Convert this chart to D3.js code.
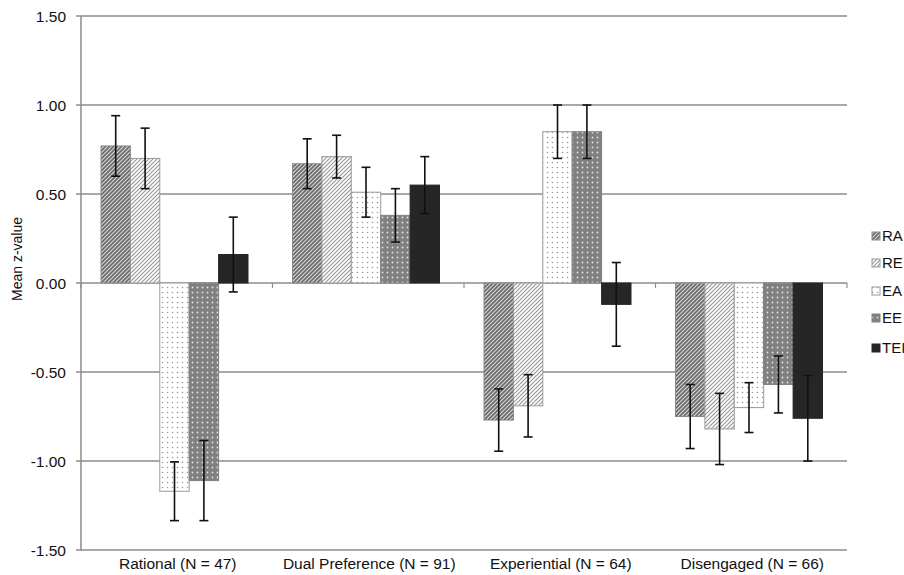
<!DOCTYPE html>
<html>
<head>
<meta charset="utf-8">
<script src="https://cdn.jsdelivr.net/npm/d3@7"></script>
<style>
  html, body { margin: 0; padding: 0; background: #fff; }
  svg { display: block; font-family: Arial, "Liberation Sans", sans-serif; }
</style>
</head>
<body>
<svg id="chart" width="904" height="575"></svg>
<script>
// ---- data ----
const categories = ["Rational (N = 47)", "Dual Preference (N = 91)", "Experiential (N = 64)", "Disengaged (N = 66)"];
const seriesNames = ["RA", "RE", "EA", "EE", "TEI"];
const RA  = [0.77, 0.67, -0.77, -0.75];
const RE  = [0.70, 0.71, -0.69, -0.82];
const EA  = [-1.17, 0.51, 0.85, -0.70];
const EE  = [-1.11, 0.38, 0.85, -0.57];
const TEI = [0.16, 0.55, -0.12, -0.76];
const RA_err  = [0.17, 0.14, 0.175, 0.18];
const RE_err  = [0.17, 0.12, 0.175, 0.20];
const EA_err  = [0.165, 0.14, 0.15, 0.14];
const EE_err  = [0.225, 0.15, 0.15, 0.16];
const TEI_err = [0.21, 0.16, 0.235, 0.24];
const yTicks = [1.5, 1.0, 0.5, 0.0, -0.5, -1.0, -1.5];
const yTickLabels = ["1.50", "1.00", "0.50", "0.00", "-0.50", "-1.00", "-1.50"];
const yTitle = "Mean z-value";

const seriesValues = [RA, RE, EA, EE, TEI];
const seriesErrors = [RA_err, RE_err, EA_err, EE_err, TEI_err];

// ---- layout ----
const svg = d3.select("#chart");
const plotL = 81, plotR = 847, plotT = 16, plotB = 550;

const y = d3.scaleLinear().domain([-1.5, 1.5]).range([plotB, plotT]);
const x0 = d3.scaleBand().domain(categories).range([plotL, plotR]).padding(0);
const x1 = d3.scaleBand().domain(seriesNames).range([20, 167]).padding(0);

// ---- patterns ----
const defs = svg.append("defs");
function hatch(id, bg, stroke, sw) {
  const p = defs.append("pattern").attr("id", id).attr("patternUnits", "userSpaceOnUse")
    .attr("width", 4).attr("height", 4);
  p.append("rect").attr("width", 4).attr("height", 4).attr("fill", bg);
  p.append("path").attr("d", "M-1,1 l2,-2 M0,4 l4,-4 M3,5 l2,-2")
    .attr("stroke", stroke).attr("stroke-width", sw).attr("fill", "none");
}
function dots(id, bg, dot, r) {
  const p = defs.append("pattern").attr("id", id).attr("patternUnits", "userSpaceOnUse")
    .attr("width", 5).attr("height", 5);
  p.append("rect").attr("width", 5).attr("height", 5).attr("fill", bg);
  p.append("circle").attr("cx", 2.5).attr("cy", 2.5).attr("r", r).attr("fill", dot);
}
hatch("pRA", "#d8d8d8", "#6a6a6a", 1.7);
hatch("pRE", "#ffffff", "#9a9a9a", 1.2);
dots("pEA", "#ffffff", "#9a9a9a", 0.8);
dots("pEE", "#808080", "#e2e2e2", 0.9);

const fills = {RA: "url(#pRA)", RE: "url(#pRE)", EA: "url(#pEA)", EE: "url(#pEE)", TEI: "#262626"};
const strokes = {RA: "#8a8a8a", RE: "#9a9a9a", EA: "#9a9a9a", EE: "#808080", TEI: "#262626"};

// ---- gridlines ----
svg.append("g").selectAll("line").data(yTicks).join("line")
  .attr("x1", plotL - 5).attr("x2", plotR)
  .attr("y1", d => y(d)).attr("y2", d => y(d))
  .attr("stroke", "#8c8c8c").attr("stroke-width", 1.5);

// y axis line
svg.append("line").attr("x1", plotL).attr("x2", plotL).attr("y1", plotT).attr("y2", plotB)
  .attr("stroke", "#8c8c8c").attr("stroke-width", 1.5);

// y tick labels
svg.append("g").selectAll("text").data(yTicks).join("text")
  .attr("x", 66).attr("y", d => y(d)).attr("dy", "0.36em")
  .attr("text-anchor", "end").attr("font-size", "15.5px").attr("fill", "#111")
  .text((d, i) => yTickLabels[i]);

// y title
svg.append("text").attr("transform", "translate(22,259) rotate(-90)")
  .attr("text-anchor", "middle").attr("font-size", "14px").attr("fill", "#111")
  .text(yTitle);

// category ticks on zero line
const boundaries = categories.map(c => x0(c)).concat([plotR]);
svg.append("g").selectAll("line").data(boundaries).join("line")
  .attr("x1", d => d).attr("x2", d => d)
  .attr("y1", y(0)).attr("y2", y(0) + 5)
  .attr("stroke", "#8c8c8c").attr("stroke-width", 1.2);

// ---- bars ----
const barData = [];
categories.forEach((c, ci) => {
  seriesNames.forEach((s, si) => {
    barData.push({c, s, v: seriesValues[si][ci], e: seriesErrors[si][ci]});
  });
});

const gBars = svg.append("g");
gBars.selectAll("rect").data(barData).join("rect")
  .attr("x", d => x0(d.c) + x1(d.s))
  .attr("width", x1.bandwidth())
  .attr("y", d => y(Math.max(0, d.v)))
  .attr("height", d => Math.abs(y(d.v) - y(0)))
  .attr("fill", d => fills[d.s])
  .attr("stroke", d => strokes[d.s]).attr("stroke-width", 1);

// error bars
const gErr = svg.append("g").attr("stroke", "#111").attr("stroke-width", 1.6);
barData.forEach(d => {
  const cx = x0(d.c) + x1(d.s) + x1.bandwidth() / 2;
  const yt = y(d.v + d.e), yb = y(d.v - d.e);
  gErr.append("line").attr("x1", cx).attr("x2", cx).attr("y1", yt).attr("y2", yb);
  gErr.append("line").attr("x1", cx - 4.5).attr("x2", cx + 4.5).attr("y1", yt).attr("y2", yt);
  gErr.append("line").attr("x1", cx - 4.5).attr("x2", cx + 4.5).attr("y1", yb).attr("y2", yb);
});

// category labels
svg.append("g").selectAll("text").data(categories).join("text")
  .attr("x", d => x0(d) + x0.bandwidth() / 2 + 1)
  .attr("y", 569)
  .attr("text-anchor", "middle").attr("font-size", "15.5px").attr("fill", "#111")
  .text(d => d);

// ---- legend ----
const legend = svg.append("g");
const legY = [236, 263, 291, 318, 348];
seriesNames.forEach((s, i) => {
  legend.append("rect").attr("x", 872).attr("y", legY[i] - 4).attr("width", 8).attr("height", 8)
    .attr("fill", fills[s]).attr("stroke", strokes[s]).attr("stroke-width", 1);
  legend.append("text").attr("x", 882).attr("y", legY[i]).attr("dy", "0.36em")
    .attr("font-size", "15px").attr("fill", "#111").text(s);
});
</script>
</body>
</html>
